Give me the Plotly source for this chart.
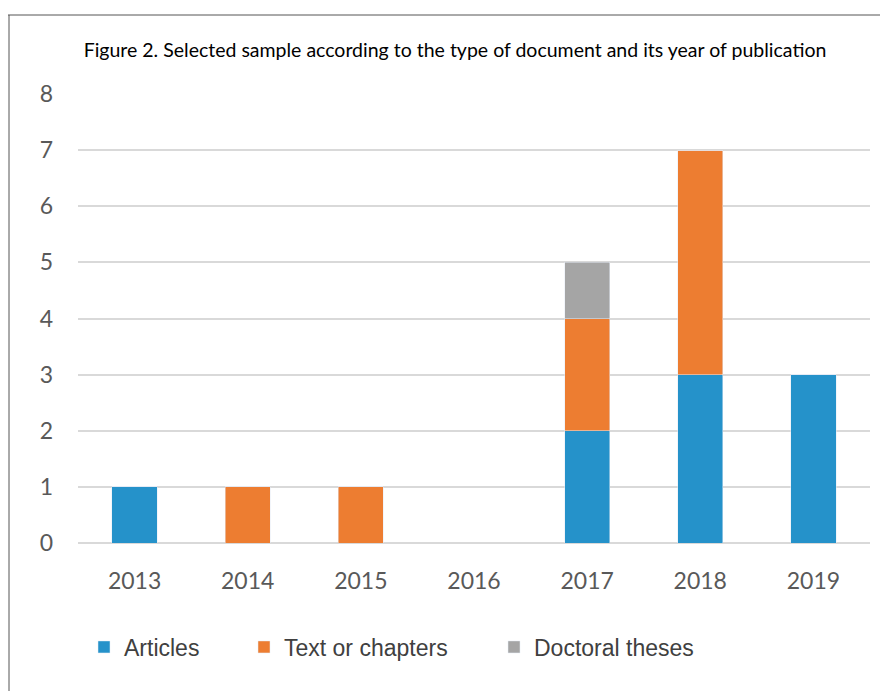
import plotly.graph_objects as go

years = ["2013", "2014", "2015", "2016", "2017", "2018", "2019"]
articles = [1, 0, 0, 0, 2, 3, 3]
text_chapters = [0, 1, 1, 0, 2, 4, 0]
doctoral = [0, 0, 0, 0, 1, 0, 0]
y_ticks = [0, 1, 2, 3, 4, 5, 6, 7, 8]

title_text = "Figure 2. Selected sample according to the type of document and its year of publication"

OFF = 8  # page body margin
W, H = 888 - OFF, 691 - OFF
L, R, T, B = 78 - OFF, 18, 94 - OFF, 148
pw, ph = W - L - R, H - T - B


def px_x(p):
    return (p - OFF - L) / pw


def px_y(p):
    return (H - B - (p - OFF)) / ph


fig = go.Figure()
fig.add_bar(x=years, y=articles, name="Articles", marker_color="#2592CA", legend="legend")
fig.add_bar(x=years, y=text_chapters, name="Text or chapters", marker_color="#ED7D31", legend="legend2")
fig.add_bar(x=years, y=doctoral, name="Doctoral theses", marker_color="#A5A5A5", legend="legend3")

legend_font = dict(family="Liberation Sans, Arial, sans-serif", size=23, color="#404040")
leg_common = dict(orientation="h", yanchor="middle", xanchor="left", font=legend_font,
                  bgcolor="rgba(0,0,0,0)", itemclick=False, itemdoubleclick=False)

fig.update_layout(
    width=W, height=H,
    margin=dict(l=L, r=R, t=T, b=B, pad=0),
    paper_bgcolor="white", plot_bgcolor="white",
    barmode="stack", bargap=0.6,
    showlegend=True,
    hovermode=False,
    title=dict(text=title_text, x=(455 - OFF) / W, xanchor="center", y=1 - (50 - OFF) / H, yanchor="middle",
               font=dict(family="Lato, sans-serif", size=19.5, color="#000000")),
    legend=dict(x=px_x(84), y=px_y(647), **leg_common),
    legend2=dict(x=px_x(244), y=px_y(647), **leg_common),
    legend3=dict(x=px_x(494), y=px_y(647), **leg_common),
    xaxis=dict(showgrid=False, showline=False, ticks="", ticklabelstandoff=22,
               tickfont=dict(family="Lato, sans-serif", size=23, color="#595959")),
    yaxis=dict(range=[0, 8], tickvals=y_ticks, showgrid=True, gridcolor="#D9D9D9", gridwidth=1.5,
               zeroline=True, zerolinecolor="#D9D9D9", zerolinewidth=1.5, showline=False,
               ticks="", ticklabelstandoff=24,
               tickfont=dict(family="Lato, sans-serif", size=23, color="#595959")),
    shapes=[
        dict(type="line", xref="paper", yref="paper", x0=px_x(8), x1=px_x(892), y0=px_y(15), y1=px_y(15),
             line=dict(color="#555555", width=1)),
        dict(type="line", xref="paper", yref="paper", x0=px_x(9), x1=px_x(9), y0=px_y(15), y1=px_y(695),
             line=dict(color="#555555", width=1)),
    ],
)

fig.write_html("out.html", config={"displayModeBar": False})
